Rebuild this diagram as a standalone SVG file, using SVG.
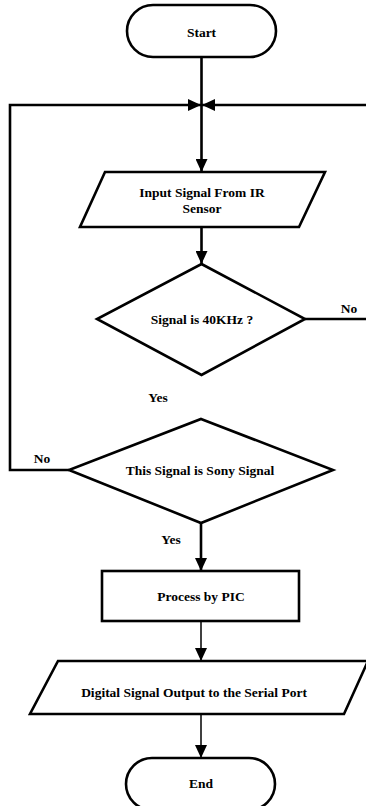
<svg xmlns="http://www.w3.org/2000/svg" width="366" height="806" viewBox="0 0 366 806">
<style>
.shape{fill:#fff;stroke:#000;stroke-width:2.6;stroke-linejoin:miter}
.line{fill:none;stroke:#000;stroke-width:2.6}
.thin{fill:none;stroke:#000;stroke-width:1.5}
text{font-family:"Liberation Serif","Times New Roman",serif;font-weight:bold;font-size:13.5px;fill:#000;text-anchor:middle}
</style>
<defs>
<marker id="ah" markerUnits="userSpaceOnUse" markerWidth="13" markerHeight="12" viewBox="0 0 13 12" refX="13" refY="6" orient="auto">
<path d="M0,0 L13,6 L0,12 Z" fill="#000"/>
</marker>
</defs>
<rect width="366" height="806" fill="#fff"/>
<g id="connectors">
<line class="line" x1="201.5" y1="57" x2="201.5" y2="105"/>
<line class="line" x1="201.5" y1="105" x2="201.5" y2="172" marker-end="url(#ah)"/>
<polyline class="line" points="69,470 10,470 10,105 201,105" marker-end="url(#ah)"/>
<polyline class="line" points="305,319 366,319"/>
<line class="line" x1="366" y1="105" x2="202" y2="105" marker-end="url(#ah)"/>
<line class="line" x1="201.5" y1="227" x2="201.5" y2="264" marker-end="url(#ah)"/>
<line class="line" x1="201" y1="523" x2="201" y2="571" marker-end="url(#ah)"/>
<line class="thin" x1="201" y1="621" x2="201" y2="661" marker-end="url(#ah)"/>
<line class="thin" x1="201" y1="714" x2="201" y2="758" marker-end="url(#ah)"/>
<text x="349" y="313">No</text>
<text x="158" y="402">Yes</text>
<text x="42" y="463">No</text>
<text x="171" y="544">Yes</text>
</g>
<g id="start">
<rect class="shape" x="127" y="5" width="149" height="52" rx="26" ry="26"/>
<text x="201.5" y="37">Start</text>
</g>
<g id="input">
<polygon class="shape" points="105,172 325,172 299,227 80,227"/>
<text x="202" y="197">Input Signal From IR</text>
<text x="202" y="213">Sensor</text>
</g>
<g id="check40k">
<polygon class="shape" points="201.5,264 305,319 201.5,375 97,319"/>
<text x="202" y="324">Signal is 40KHz ?</text>
</g>
<g id="checkSony">
<polygon class="shape" points="201,419 333,470 201,523 69,470"/>
<text x="200" y="475">This Signal is Sony Signal</text>
</g>
<g id="process">
<rect class="shape" x="102" y="571" width="197" height="50"/>
<text x="201" y="601">Process by PIC</text>
</g>
<g id="output">
<polygon class="shape" points="58,661 368,661 344,714 30,714"/>
<text x="194" y="697">Digital Signal Output to the Serial Port</text>
</g>
<g id="end">
<rect class="shape" x="126" y="758" width="149" height="52" rx="26" ry="26"/>
<text x="201" y="788">End</text>
</g>
</svg>
